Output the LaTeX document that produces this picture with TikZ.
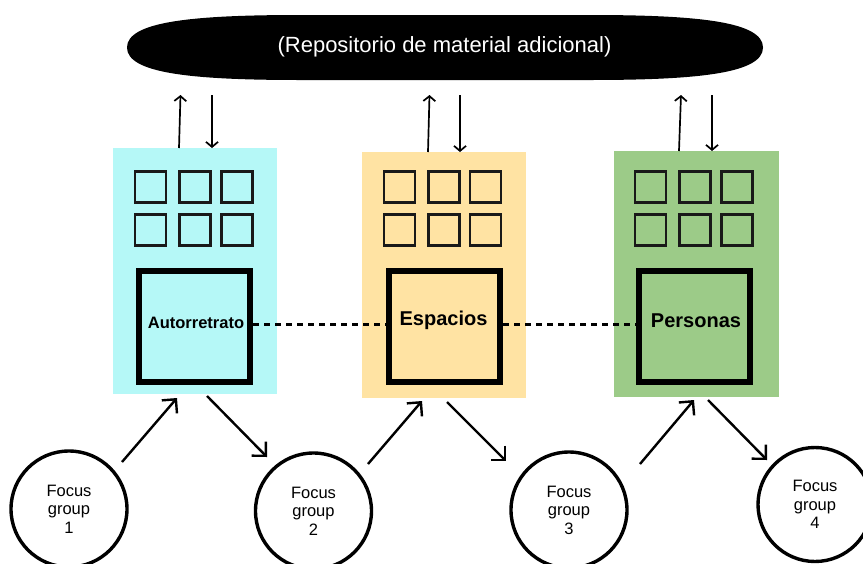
\documentclass[tikz,border=0pt]{standalone}
\usepackage{fontspec}
\setmainfont{Liberation Sans}
\usetikzlibrary{arrows.meta}
\definecolor{cyanbox}{HTML}{B5F8F7}
\definecolor{yellowbox}{HTML}{FFE3A3}
\definecolor{greenbox}{HTML}{9CCB88}
\tikzset{
  panel/.style={rectangle, inner sep=0pt, minimum width=164pt, minimum height=246pt},
  cell/.style={rectangle, draw=black!90, line width=2.3pt, minimum size=31pt, inner sep=0pt},
  core/.style={rectangle, draw=black, line width=6.5pt, minimum size=111pt, inner sep=0pt},
  corelabel/.style={inner sep=0pt, font=\bfseries\fontsize{20}{22}\selectfont},
  fgroup/.style={circle, draw=black, line width=3.4pt, minimum size=116pt, inner sep=0pt,
    align=center, font=\fontsize{16.5}{18.5}\selectfont},
  updown/.style={line width=1.7pt, -{Straight Barb[length=5pt,width=12pt]}},
  flow/.style={line width=2.4pt, -{Straight Barb[length=10pt,width=20pt]}},
  dashlink/.style={line width=2.2pt, dash pattern=on 6pt off 5pt}
}
\begin{document}
\begin{tikzpicture}[x=1pt,y=-1pt]
\useasboundingbox (0,0) rectangle (863,563);
\clip (0,0) rectangle (863,563);
\fill[white] (0,0) rectangle (863,563);

% repository
\fill[black] (127,47.5) .. controls (127,22) and (190,15) .. (300,15) -- (590,15)
   .. controls (700,15) and (763,22) .. (763,47.5)
   .. controls (763,73) and (700,80) .. (590,80) -- (300,80)
   .. controls (190,80) and (127,73) .. (127,47.5) -- cycle;
\node[text=white, font=\fontsize{22}{24}\selectfont, inner sep=0pt] (repo) at (444.5,47) {(Repositorio de material adicional)};

% panels
\node[panel, fill=cyanbox] (p1) at (195,271) {};
\node[panel, fill=yellowbox] (p2) at (444,275) {};
\node[panel, fill=greenbox, minimum width=165pt] (p3) at (696.5,274) {};

% cells
\foreach \i/\xa/\xb/\xc in {1/150.5/195/237, 2/399.5/444/485.5, 3/650.5/695/737}{
  \node[cell] (a\i) at (\xa,187) {};
  \node[cell] (b\i) at (\xb,187) {};
  \node[cell] (c\i) at (\xc,187) {};
  \node[cell] (d\i) at (\xa,230) {};
  \node[cell] (e\i) at (\xb,230) {};
  \node[cell] (f\i) at (\xc,230) {};
}

% cores
\node[core] (k1) at (194.5,326.5) {};
\node[core] (k2) at (444.5,326.5) {};
\node[core] (k3) at (694.5,326.5) {};
\node[corelabel, font=\bfseries\fontsize{16.5}{18}\selectfont] (l1) at (196,323) {Autorretrato};
\node[corelabel] (l2) at (443.5,320.5) {Espacios};
\node[corelabel] (l3) at (696,321) {Personas};

\draw[dashlink] ([yshift=2pt]k1.east) -- ([yshift=2pt]k2.west);
\draw[dashlink] ([yshift=2pt]k2.east) -- ([yshift=2pt]k3.west);

% arrows to / from repository
\coordinate (u1s) at (179,148); \coordinate (u1e) at (180.5,95);
\coordinate (d1s) at (212,95);  \coordinate (d1e) at (212,148);
\coordinate (u2s) at (428,152); \coordinate (u2e) at (429.5,95);
\coordinate (d2s) at (460,95);  \coordinate (d2e) at (460,152);
\coordinate (u3s) at (679,151); \coordinate (u3e) at (681,95);
\coordinate (d3s) at (712,95);  \coordinate (d3e) at (712,151);
\foreach \i in {1,2,3}{
  \draw[updown] (u\i s) -- (u\i e);
  \draw[updown] (d\i s) -- (d\i e);
}

% focus groups
\node[fgroup] (g1) at (69,509) {Focus\\group\\1};
\node[fgroup] (g2) at (313.5,511) {Focus\\group\\2};
\node[fgroup] (g3) at (569,510) {Focus\\group\\3};
\node[fgroup, minimum size=114pt] (g4) at (815,504.5) {Focus\\group\\4};

% flow arrows
\coordinate (f1s) at (122,462); \coordinate (f1e) at (177,398);
\coordinate (h1s) at (207,396); \coordinate (h1e) at (267,457);
\coordinate (f2s) at (368,464); \coordinate (f2e) at (422,401);
\coordinate (h2s) at (447,402); \coordinate (h2e) at (506,461);
\coordinate (f3s) at (640,464); \coordinate (f3e) at (694,400);
\coordinate (h3s) at (708,400); \coordinate (h3e) at (767,460);
\foreach \i in {1,2,3}{
  \draw[flow] (f\i s) -- (f\i e);
  \draw[flow] (h\i s) -- (h\i e);
}
\end{tikzpicture}
\end{document}
